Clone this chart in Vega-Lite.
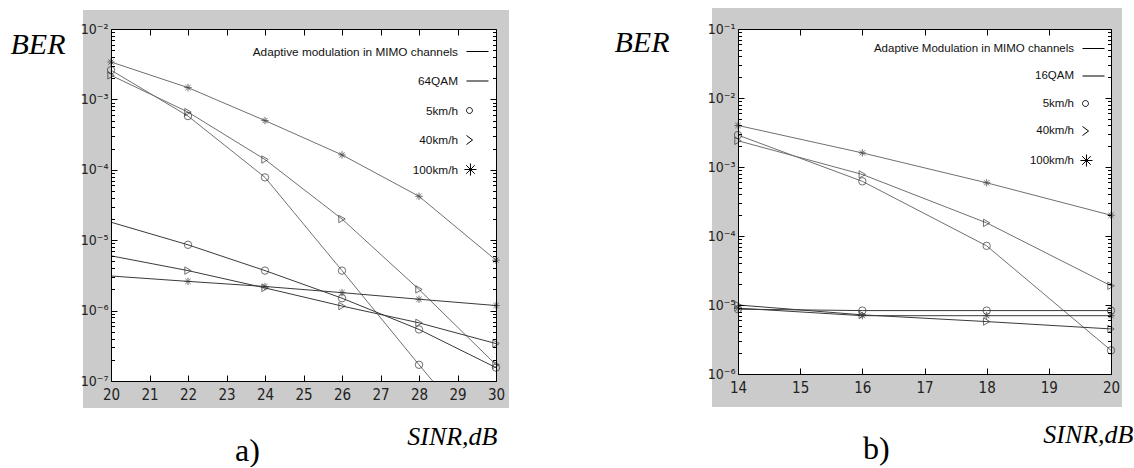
{
  "$schema": "https://vega.github.io/schema/vega-lite/v6.json",
  "background": "white",
  "padding": {"left": 10, "top": 8, "right": 0, "bottom": 0},
  "spacing": 104,
  "config": {
    "view": {"stroke": null, "fill": null},
    "axis": {"grid": false, "domainColor": "black", "domainWidth": 1, "tickColor": "black", "tickWidth": 1, "labelColor": "#222", "labelFont": "Liberation Sans Narrow, DejaVu Sans Condensed, Liberation Sans, sans-serif", "labelFontSize": 14}
  },
  "resolve": {"scale": {"shape": "independent", "color": "independent"}, "legend": {"shape": "independent"}},
  "datasets": {
    "A": [
      {"snr": 20, "ber": 3.4e-3, "grp": "adaptive", "speed": "100km/h"},
      {"snr": 22, "ber": 1.47e-3, "grp": "adaptive", "speed": "100km/h"},
      {"snr": 24, "ber": 5.0e-4, "grp": "adaptive", "speed": "100km/h"},
      {"snr": 26, "ber": 1.63e-4, "grp": "adaptive", "speed": "100km/h"},
      {"snr": 28, "ber": 4.2e-5, "grp": "adaptive", "speed": "100km/h"},
      {"snr": 30, "ber": 5.2e-6, "grp": "adaptive", "speed": "100km/h"},
      {"snr": 20, "ber": 2.6e-3, "grp": "adaptive", "speed": "5km/h"},
      {"snr": 22, "ber": 5.8e-4, "grp": "adaptive", "speed": "5km/h"},
      {"snr": 24, "ber": 7.8e-5, "grp": "adaptive", "speed": "5km/h"},
      {"snr": 26, "ber": 3.7e-6, "grp": "adaptive", "speed": "5km/h"},
      {"snr": 28, "ber": 1.7e-7, "grp": "adaptive", "speed": "5km/h"},
      {"snr": 30, "ber": 8.5e-9, "grp": "adaptive", "speed": "5km/h"},
      {"snr": 20, "ber": 2.2e-3, "grp": "adaptive", "speed": "40km/h"},
      {"snr": 22, "ber": 6.6e-4, "grp": "adaptive", "speed": "40km/h"},
      {"snr": 24, "ber": 1.4e-4, "grp": "adaptive", "speed": "40km/h"},
      {"snr": 26, "ber": 2.0e-5, "grp": "adaptive", "speed": "40km/h"},
      {"snr": 28, "ber": 2.0e-6, "grp": "adaptive", "speed": "40km/h"},
      {"snr": 30, "ber": 1.7e-7, "grp": "adaptive", "speed": "40km/h"},
      {"snr": 20, "ber": 1.8e-5, "grp": "fixed", "speed": "5km/h"},
      {"snr": 22, "ber": 8.6e-6, "grp": "fixed", "speed": "5km/h"},
      {"snr": 24, "ber": 3.7e-6, "grp": "fixed", "speed": "5km/h"},
      {"snr": 26, "ber": 1.5e-6, "grp": "fixed", "speed": "5km/h"},
      {"snr": 28, "ber": 5.4e-7, "grp": "fixed", "speed": "5km/h"},
      {"snr": 30, "ber": 1.55e-7, "grp": "fixed", "speed": "5km/h"},
      {"snr": 20, "ber": 6.0e-6, "grp": "fixed", "speed": "40km/h"},
      {"snr": 22, "ber": 3.7e-6, "grp": "fixed", "speed": "40km/h"},
      {"snr": 24, "ber": 2.1e-6, "grp": "fixed", "speed": "40km/h"},
      {"snr": 26, "ber": 1.16e-6, "grp": "fixed", "speed": "40km/h"},
      {"snr": 28, "ber": 6.7e-7, "grp": "fixed", "speed": "40km/h"},
      {"snr": 30, "ber": 3.4e-7, "grp": "fixed", "speed": "40km/h"},
      {"snr": 20, "ber": 3.1e-6, "grp": "fixed", "speed": "100km/h"},
      {"snr": 22, "ber": 2.6e-6, "grp": "fixed", "speed": "100km/h"},
      {"snr": 24, "ber": 2.2e-6, "grp": "fixed", "speed": "100km/h"},
      {"snr": 26, "ber": 1.8e-6, "grp": "fixed", "speed": "100km/h"},
      {"snr": 28, "ber": 1.45e-6, "grp": "fixed", "speed": "100km/h"},
      {"snr": 30, "ber": 1.18e-6, "grp": "fixed", "speed": "100km/h"}
    ],
    "B": [
      {"snr": 14, "ber": 4.0e-3, "grp": "adaptive", "speed": "100km/h"},
      {"snr": 16, "ber": 1.6e-3, "grp": "adaptive", "speed": "100km/h"},
      {"snr": 18, "ber": 5.9e-4, "grp": "adaptive", "speed": "100km/h"},
      {"snr": 20, "ber": 2.0e-4, "grp": "adaptive", "speed": "100km/h"},
      {"snr": 14, "ber": 2.9e-3, "grp": "adaptive", "speed": "5km/h"},
      {"snr": 16, "ber": 6.2e-4, "grp": "adaptive", "speed": "5km/h"},
      {"snr": 18, "ber": 7.2e-5, "grp": "adaptive", "speed": "5km/h"},
      {"snr": 20, "ber": 2.2e-6, "grp": "adaptive", "speed": "5km/h"},
      {"snr": 14, "ber": 2.4e-3, "grp": "adaptive", "speed": "40km/h"},
      {"snr": 16, "ber": 7.8e-4, "grp": "adaptive", "speed": "40km/h"},
      {"snr": 18, "ber": 1.55e-4, "grp": "adaptive", "speed": "40km/h"},
      {"snr": 20, "ber": 1.9e-5, "grp": "adaptive", "speed": "40km/h"},
      {"snr": 14, "ber": 8.7e-6, "grp": "fixed", "speed": "5km/h"},
      {"snr": 16, "ber": 8.3e-6, "grp": "fixed", "speed": "5km/h"},
      {"snr": 18, "ber": 8.3e-6, "grp": "fixed", "speed": "5km/h"},
      {"snr": 20, "ber": 8.3e-6, "grp": "fixed", "speed": "5km/h"},
      {"snr": 14, "ber": 9.0e-6, "grp": "fixed", "speed": "100km/h"},
      {"snr": 16, "ber": 7.0e-6, "grp": "fixed", "speed": "100km/h"},
      {"snr": 18, "ber": 7.0e-6, "grp": "fixed", "speed": "100km/h"},
      {"snr": 20, "ber": 7.0e-6, "grp": "fixed", "speed": "100km/h"},
      {"snr": 14, "ber": 1.0e-5, "grp": "fixed", "speed": "40km/h"},
      {"snr": 16, "ber": 7.2e-6, "grp": "fixed", "speed": "40km/h"},
      {"snr": 18, "ber": 5.75e-6, "grp": "fixed", "speed": "40km/h"},
      {"snr": 20, "ber": 4.5e-6, "grp": "fixed", "speed": "40km/h"}
    ],
    "legA": [
      {"label": "Adaptive modulation in MIMO channels"},
      {"label": "64QAM"},
      {"label": "5km/h"},
      {"label": "40km/h"},
      {"label": "100km/h"}
    ],
    "legB": [
      {"label": "Adaptive Modulation in MIMO channels"},
      {"label": "16QAM"},
      {"label": "5km/h"},
      {"label": "40km/h"},
      {"label": "100km/h"}
    ]
  },
  "hconcat": [
    {
      "width": 385,
      "height": 352,
      "title": {"text": "a)", "orient": "bottom", "anchor": "start", "frame": "group", "dx": 124, "offset": 12, "baseline": "alphabetic", "font": "Liberation Serif", "fontSize": 32, "fontWeight": "normal", "color": "black"},
      "resolve": {"axis": {"x": "independent", "y": "independent"}, "scale": {"shape": "independent"}, "legend": {"shape": "independent"}},
      "layer": [
        {
          "data": {"values": [{}]},
          "mark": {"type": "rect", "color": "#cbcbcb"},
          "encoding": {
            "x": {"datum": 19.273, "type": "quantitative", "scale": {"domain": [20, 30], "nice": false, "zero": false}, "axis": null},
            "x2": {"datum": 30.338},
            "y": {"datum": 0.0186, "type": "quantitative", "scale": {"type": "log", "domain": [1e-7, 0.01], "nice": false}, "axis": null},
            "y2": {"datum": 4.13e-8}
          }
        },
        {
          "data": {"values": [{}]},
          "mark": {"type": "rect", "color": "white"},
          "encoding": {
            "x": {"datum": 20, "type": "quantitative", "scale": {"domain": [20, 30], "nice": false, "zero": false},
              "axis": {"orient": "top", "values": [20, 21, 22, 23, 24, 25, 26, 27, 28, 29, 30], "labels": false, "tickSize": -6, "title": null, "zindex": 1}},
            "x2": {"datum": 30},
            "y": {"datum": 0.01, "type": "quantitative", "scale": {"type": "log", "domain": [1e-7, 0.01], "nice": false},
              "axis": {"orient": "right", "values": [1e-7,2e-7,3e-7,4e-7,5e-7,6e-7,7e-7,8e-7,9e-7,1e-6,2e-6,3e-6,4e-6,5e-6,6e-6,7e-6,8e-6,9e-6,1e-5,2e-5,3e-5,4e-5,5e-5,6e-5,7e-5,8e-5,9e-5,0.0001,0.0002,0.0003,0.0004,0.0005,0.0006,0.0007,0.0008,0.0009,0.001,0.002,0.003,0.004,0.005,0.006,0.007,0.008,0.009,0.01], "labels": false,
                "tickSize": {"condition": {"test": "abs(log(datum.value)/LN10 - round(log(datum.value)/LN10)) < 0.001", "value": -6}, "value": -3.5}, "title": null, "zindex": 1}},
            "y2": {"datum": 1e-7}
          }
        },
        {
          "data": {"name": "A"},
          "mark": {"type": "line", "clip": true, "strokeWidth": 1},
          "encoding": {
            "x": {"field": "snr", "type": "quantitative", "scale": {"domain": [20, 30], "nice": false, "zero": false},
              "axis": {"orient": "bottom", "values": [20, 21, 22, 23, 24, 25, 26, 27, 28, 29, 30], "format": "d", "tickSize": -6, "labelPadding": 12, "labelFontSize": 15, "labelFlush": false, "labelOverlap": false, "zindex": 1,
                "title": "SINR,dB", "titleX": 386, "titleY": 63, "titleAlign": "right", "titleBaseline": "alphabetic", "titleAngle": 0, "titleFont": "Liberation Serif", "titleFontStyle": "italic", "titleFontWeight": "normal", "titleFontSize": 26, "titleColor": "black"}},
            "y": {"field": "ber", "type": "quantitative", "scale": {"type": "log", "domain": [1e-7, 0.01], "nice": false},
              "axis": {"orient": "left", "values": [1e-7,2e-7,3e-7,4e-7,5e-7,6e-7,7e-7,8e-7,9e-7,1e-6,2e-6,3e-6,4e-6,5e-6,6e-6,7e-6,8e-6,9e-6,1e-5,2e-5,3e-5,4e-5,5e-5,6e-5,7e-5,8e-5,9e-5,0.0001,0.0002,0.0003,0.0004,0.0005,0.0006,0.0007,0.0008,0.0009,0.001,0.002,0.003,0.004,0.005,0.006,0.007,0.008,0.009,0.01],
                "labelExpr": "abs(log(datum.value)/LN10 - round(log(datum.value)/LN10)) < 0.001 ? '10' + ['⁰','⁻¹','⁻²','⁻³','⁻⁴','⁻⁵','⁻⁶','⁻⁷'][-round(log(datum.value)/LN10)] : ''",
                "labelOverlap": false, "labelFlush": false, "labelBaseline": "middle", "labelPadding": 9,
                "tickSize": {"condition": {"test": "abs(log(datum.value)/LN10 - round(log(datum.value)/LN10)) < 0.001", "value": -6}, "value": -3.5},
                "zindex": 1,
                "title": "BER", "titleX": -101, "titleY": 24, "titleAngle": 0, "titleAlign": "left", "titleBaseline": "alphabetic", "titleFont": "Liberation Serif", "titleFontStyle": "italic", "titleFontWeight": "normal", "titleFontSize": 30, "titleColor": "black"}},
            "color": {"field": "grp", "type": "nominal", "scale": {"domain": ["adaptive", "fixed"], "range": ["#707070", "#3a3a3a"]}, "legend": null},
            "detail": {"field": "speed", "type": "nominal"}
          }
        },
        {
          "data": {"name": "A"},
          "transform": [{"filter": "datum.ber >= 1e-7 && (datum.snr > 20 || datum.grp == 'adaptive')"}],
          "mark": {"type": "point", "filled": false, "color": "#333", "strokeWidth": 1, "size": 55},
          "encoding": {
            "x": {"field": "snr", "type": "quantitative", "scale": {"domain": [20, 30], "nice": false, "zero": false}, "axis": null},
            "y": {"field": "ber", "type": "quantitative", "scale": {"type": "log", "domain": [1e-7, 0.01], "nice": false}, "axis": null},
            "shape": {"field": "speed", "type": "nominal", "scale": {"domain": ["5km/h", "40km/h", "100km/h"], "range": ["circle", "triangle-right", "M-1,0L1,0M0,-1L0,1M-0.7,-0.7L0.7,0.7M-0.7,0.7L0.7,-0.7"]}, "legend": null}
          }
        },
        {
          "data": {"name": "legA"},
          "mark": {"type": "point", "filled": false, "color": "black", "opacity": 0},
          "encoding": {
            "shape": {"field": "label", "type": "nominal",
              "scale": {"domain": ["Adaptive modulation in MIMO channels", "64QAM", "5km/h", "40km/h", "100km/h"],
                "range": ["M-1,0L1,0", "M-1,0L1,0", "M-1,0A0.27,0.27,0,1,1,-0.46,0A0.27,0.27,0,1,1,-1,0Z", "M-1,-0.41L-0.45,0L-1,0.41", "M-1.19,0L-0.09,0M-0.64,-0.55L-0.64,0.55M-1.03,-0.39L-0.25,0.39M-1.03,0.39L-0.25,-0.39"]},
              "legend": {"orient": "none", "legendX": 355, "legendY": 11, "title": null, "symbolSize": 484, "symbolStrokeWidth": 1, "symbolStrokeColor": "black", "symbolFillColor": "transparent", "symbolOpacity": 1, "labelAlign": "right", "labelOffset": -31, "labelFont": "Liberation Sans", "labelFontSize": 11.8, "labelColor": "#111", "labelLimit": 400, "rowPadding": 10.5, "padding": 0, "offset": 0}}
          }
        }
      ]
    },
    {
      "width": 373,
      "height": 345,
      "title": {"text": "b)", "orient": "bottom", "anchor": "start", "frame": "group", "dx": 125, "offset": 12, "baseline": "alphabetic", "font": "Liberation Serif", "fontSize": 32, "fontWeight": "normal", "color": "black"},
      "resolve": {"axis": {"x": "independent", "y": "independent"}, "scale": {"shape": "independent"}, "legend": {"shape": "independent"}},
      "layer": [
        {
          "data": {"values": [{}]},
          "mark": {"type": "rect", "color": "#cbcbcb"},
          "encoding": {
            "x": {"datum": 13.582, "type": "quantitative", "scale": {"domain": [14, 20], "nice": false, "zero": false}, "axis": null},
            "x2": {"datum": 20.177},
            "y": {"datum": 0.2013, "type": "quantitative", "scale": {"type": "log", "domain": [1e-6, 0.1], "nice": false}, "axis": null},
            "y2": {"datum": 3.33e-7}
          }
        },
        {
          "data": {"values": [{}]},
          "mark": {"type": "rect", "color": "white"},
          "encoding": {
            "x": {"datum": 14, "type": "quantitative", "scale": {"domain": [14, 20], "nice": false, "zero": false},
              "axis": {"orient": "top", "values": [14, 15, 16, 17, 18, 19, 20], "labels": false, "tickSize": -6, "title": null, "zindex": 1}},
            "x2": {"datum": 20},
            "y": {"datum": 0.1, "type": "quantitative", "scale": {"type": "log", "domain": [1e-6, 0.1], "nice": false},
              "axis": {"orient": "right", "values": [1e-6,2e-6,3e-6,4e-6,5e-6,6e-6,7e-6,8e-6,9e-6,1e-5,2e-5,3e-5,4e-5,5e-5,6e-5,7e-5,8e-5,9e-5,0.0001,0.0002,0.0003,0.0004,0.0005,0.0006,0.0007,0.0008,0.0009,0.001,0.002,0.003,0.004,0.005,0.006,0.007,0.008,0.009,0.01,0.02,0.03,0.04,0.05,0.06,0.07,0.08,0.09,0.1], "labels": false,
                "tickSize": {"condition": {"test": "abs(log(datum.value)/LN10 - round(log(datum.value)/LN10)) < 0.001", "value": -6}, "value": -3.5}, "title": null, "zindex": 1}},
            "y2": {"datum": 1e-6}
          }
        },
        {
          "data": {"name": "B"},
          "mark": {"type": "line", "clip": true, "strokeWidth": 1},
          "encoding": {
            "x": {"field": "snr", "type": "quantitative", "scale": {"domain": [14, 20], "nice": false, "zero": false},
              "axis": {"orient": "bottom", "values": [14, 15, 16, 17, 18, 19, 20], "format": "d", "tickSize": -6, "labelPadding": 12, "labelFontSize": 15, "labelFlush": false, "labelOverlap": false, "zindex": 1,
                "title": "SINR,dB", "titleX": 395, "titleY": 68, "titleAlign": "right", "titleBaseline": "alphabetic", "titleAngle": 0, "titleFont": "Liberation Serif", "titleFontStyle": "italic", "titleFontWeight": "normal", "titleFontSize": 26, "titleColor": "black"}},
            "y": {"field": "ber", "type": "quantitative", "scale": {"type": "log", "domain": [1e-6, 0.1], "nice": false},
              "axis": {"orient": "left", "values": [1e-6,2e-6,3e-6,4e-6,5e-6,6e-6,7e-6,8e-6,9e-6,1e-5,2e-5,3e-5,4e-5,5e-5,6e-5,7e-5,8e-5,9e-5,0.0001,0.0002,0.0003,0.0004,0.0005,0.0006,0.0007,0.0008,0.0009,0.001,0.002,0.003,0.004,0.005,0.006,0.007,0.008,0.009,0.01,0.02,0.03,0.04,0.05,0.06,0.07,0.08,0.09,0.1],
                "labelExpr": "abs(log(datum.value)/LN10 - round(log(datum.value)/LN10)) < 0.001 ? '10' + ['⁰','⁻¹','⁻²','⁻³','⁻⁴','⁻⁵','⁻⁶','⁻⁷'][-round(log(datum.value)/LN10)] : ''",
                "labelOverlap": false, "labelFlush": false, "labelBaseline": "middle", "labelPadding": 9,
                "tickSize": {"condition": {"test": "abs(log(datum.value)/LN10 - round(log(datum.value)/LN10)) < 0.001", "value": -6}, "value": -3.5},
                "zindex": 1,
                "title": "BER", "titleX": -124, "titleY": 22, "titleAngle": 0, "titleAlign": "left", "titleBaseline": "alphabetic", "titleFont": "Liberation Serif", "titleFontStyle": "italic", "titleFontWeight": "normal", "titleFontSize": 30, "titleColor": "black"}},
            "color": {"field": "grp", "type": "nominal", "scale": {"domain": ["adaptive", "fixed"], "range": ["#707070", "#3a3a3a"]}, "legend": null},
            "detail": {"field": "speed", "type": "nominal"}
          }
        },
        {
          "data": {"name": "B"},
          "mark": {"type": "point", "filled": false, "color": "#333", "strokeWidth": 1, "size": 55},
          "encoding": {
            "x": {"field": "snr", "type": "quantitative", "scale": {"domain": [14, 20], "nice": false, "zero": false}, "axis": null},
            "y": {"field": "ber", "type": "quantitative", "scale": {"type": "log", "domain": [1e-6, 0.1], "nice": false}, "axis": null},
            "shape": {"field": "speed", "type": "nominal", "scale": {"domain": ["5km/h", "40km/h", "100km/h"], "range": ["circle", "triangle-right", "M-1,0L1,0M0,-1L0,1M-0.7,-0.7L0.7,0.7M-0.7,0.7L0.7,-0.7"]}, "legend": null}
          }
        },
        {
          "data": {"name": "legB"},
          "mark": {"type": "point", "filled": false, "color": "black", "opacity": 0},
          "encoding": {
            "shape": {"field": "label", "type": "nominal",
              "scale": {"domain": ["Adaptive Modulation in MIMO channels", "16QAM", "5km/h", "40km/h", "100km/h"],
                "range": ["M-1,0L1,0", "M-1,0L1,0", "M-1,0A0.27,0.27,0,1,1,-0.46,0A0.27,0.27,0,1,1,-1,0Z", "M-1,-0.41L-0.45,0L-1,0.41", "M-1.19,0L-0.09,0M-0.64,-0.55L-0.64,0.55M-1.03,-0.39L-0.25,0.39M-1.03,0.39L-0.25,-0.39"]},
              "legend": {"orient": "none", "legendX": 344, "legendY": 8, "title": null, "symbolSize": 484, "symbolStrokeWidth": 1, "symbolStrokeColor": "black", "symbolFillColor": "transparent", "symbolOpacity": 1, "labelAlign": "right", "labelOffset": -31, "labelFont": "Liberation Sans", "labelFontSize": 11.5, "labelColor": "#111", "labelLimit": 400, "rowPadding": 10.5, "padding": 0, "offset": 0}}
          }
        }
      ]
    }
  ]
}
